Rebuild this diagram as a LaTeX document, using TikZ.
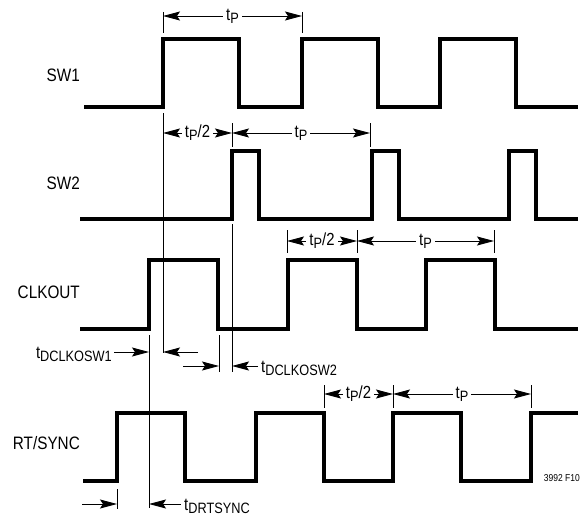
\documentclass[tikz,border=0pt]{standalone}
\usepackage{fontspec}
\setmainfont{Liberation Sans}[FakeStretch=0.85]
\usetikzlibrary{arrows.meta}

\newcommand{\tsub}[1]{t\raisebox{-3pt}{\fontsize{15}{15}\selectfont #1}}

\begin{document}
\begin{tikzpicture}[x=1pt,y=1pt,
  >={Stealth[length=17pt,width=9pt,inset=3pt]},
  wave/.style={line width=3.2pt,line join=miter},
  hair/.style={line width=0.9pt},
  dimarrow/.style={hair,<->},
  toarrow/.style={hair,->},
  sig/.style={font=\fontsize{18}{20}\selectfont,anchor=east,inner sep=0pt},
  tlab/.style={font=\fontsize{17.5}{19}\selectfont,inner sep=0pt},
  dimlab/.style={tlab,fill=white,inner xsep=3pt,inner ysep=1pt}]

% flip so that y runs downward
\begin{scope}[yscale=-1]
\useasboundingbox (0,0) rectangle (581,519);

% Parameters
\def\xend{578}

% Signal names
\node[sig] (sw1) at (80,75) {SW1};
\node[sig] (sw2) at (80,183) {SW2};
\node[sig] (clkout) at (80,292) {CLKOUT};
\node[sig] (rtsync) at (80,443) {RT/SYNC};

% SW1
\draw[wave] (84,107) \foreach \x in {163,302,440} {-- (\x,107) -- (\x,39) -- (\x+76,39) -- (\x+76,107)} -- (\xend,107);

% SW2
\draw[wave] (80,219) \foreach \x in {232,372,509} {-- (\x,219) -- (\x,151) -- (\x+27,151) -- (\x+27,219)} -- (\xend,219);

% CLKOUT
\draw[wave] (80,329) \foreach \x in {149,288,426} {-- (\x,329) -- (\x,260) -- (\x+69,260) -- (\x+69,329)} -- (\xend,329);

% RT/SYNC
\draw[wave] (83,481) \foreach \x in {117,256,393} {-- (\x,481) -- (\x,413) -- (\x+68,413) -- (\x+68,481)} -- (531,481) -- (531,413) -- (\xend,413);

% Extension lines
\draw[hair] (163,12) -- (163,33);
\draw[hair] (302,12) -- (302,33);
\draw[hair] (163,113) -- (163,353);
\draw[hair] (232,123) -- (232,147);
\draw[hair] (370,123) -- (370,147);
\draw[hair] (232,224) -- (232,372);
\foreach \x in {287,357,494} \draw[hair] (\x,230) -- (\x,253);
\draw[hair] (149,335) -- (149,508);
\draw[hair] (219,335) -- (219,372);
\foreach \x in {324,393,531} \draw[hair] (\x,385) -- (\x,408);
\draw[hair] (117,489) -- (117,509);

% Periods
\draw[dimarrow] (163,16) -- node[dimlab] (tp1) {\tsub{P}} (302,16);
\draw[dimarrow] (163,133) -- node[dimlab] (th2) {\tsub{P}/2} (232,133);
\draw[dimarrow] (232,133) -- node[dimlab] (tp2) {\tsub{P}} (370,133);
\draw[dimarrow] (287,241) -- node[dimlab] (th3) {\tsub{P}/2} (357,241);
\draw[dimarrow] (357,241) -- node[dimlab] (tp3) {\tsub{P}} (494,241);
\draw[dimarrow] (324,394) -- node[dimlab] (th4) {\tsub{P}/2} (393,394);
\draw[dimarrow] (393,394) -- node[dimlab] (tp4) {\tsub{P}} (531,394);

% Delays
\coordinate (d1) at (149,352);
\coordinate (d2) at (163,352);
\coordinate (d3) at (219,366);
\coordinate (d4) at (232,366);
\coordinate (d5) at (117,504);
\coordinate (d6) at (149,504);

\node[tlab,anchor=east,inner xsep=2pt] (tdsw1) at (114,354) {\tsub{DCLKOSW1}};
\draw[toarrow] (tdsw1.east |- d1) -- (d1);
\draw[toarrow] (198,352) -- (d2);

\node[tlab,anchor=west,inner xsep=3pt] (tdsw2) at (258,368) {\tsub{DCLKOSW2}};
\draw[toarrow] (183,366) -- (d3);
\draw[toarrow] (tdsw2.west |- d4) -- (d4);

\node[tlab,anchor=west,inner xsep=3pt] (tdrt) at (181,506) {\tsub{DRTSYNC}};
\draw[toarrow] (82,504) -- (d5);
\draw[toarrow] (tdrt.west |- d6) -- (d6);

% Figure number
\node[font=\fontsize{10}{11}\selectfont,anchor=east,inner sep=0pt] (fig) at (580,478) {3992 F10};
\end{scope}

\end{tikzpicture}
\end{document}
